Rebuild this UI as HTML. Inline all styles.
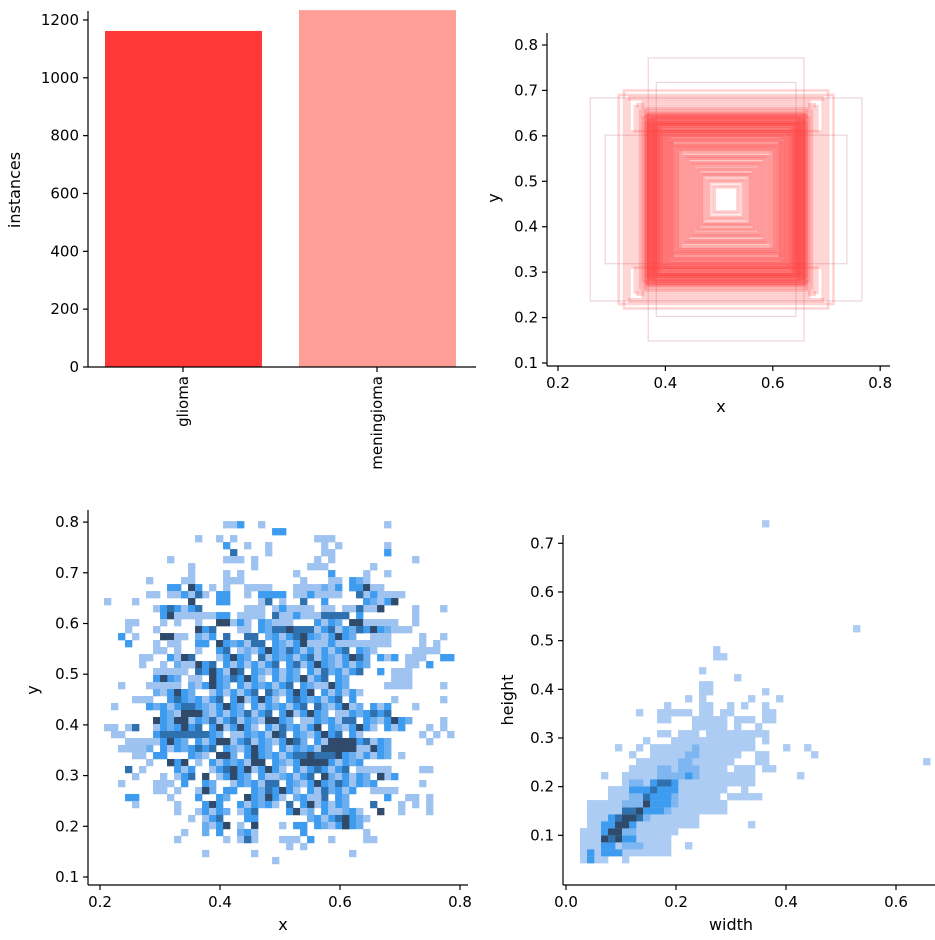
<!DOCTYPE html>
<html><head><meta charset="utf-8">
<style>
html,body{margin:0;padding:0;background:#fff;}
svg{display:block;font-family:"DejaVu Sans","Liberation Sans",sans-serif;}
.tk{font-size:15px;fill:#000;}
.lb{font-size:16px;fill:#000;}
</style></head>
<body>
<svg id="fig" width="935" height="940" viewBox="0 0 935 940" xmlns="http://www.w3.org/2000/svg">
<rect width="935" height="940" fill="#fff"/>
<g id="p1"></g>
<g id="p2"></g>
<g id="p3"></g>
<g id="p4"></g>
</svg>
<script>
// ---- Bar chart data ----
const classNames = ["glioma","meningioma"];
const classCounts = [1162, 1234];
const barTicks = [0,200,400,600,800,1000,1200];

// ---- Box outline data (width, height in axis units) ----
const boxW = [0.29,0.506,0.45,0.26,0.30,0.27,0.31,0.29,0.26,0.33,0.36,0.38,0.35,0.32,0.30,0.29,0.28,0.27,0.26,0.25,0.24,0.31,0.29,0.28,0.27,0.26,0.25,0.24,0.23,0.22,0.21,0.20,0.19,0.18,0.17,0.16,0.15,0.14,0.13,0.12,0.11,0.10,0.09,0.08,0.07,0.06,0.05,0.042,0.28,0.27,0.25,0.24,0.23,0.22,0.21,0.20,0.19,0.18,0.17,0.16,0.15,0.14,0.13,0.12,0.11,0.10,0.09,0.29,0.28,0.27,0.26,0.25,0.24,0.23,0.22,0.21,0.20,0.34,0.37,0.40,0.32,0.31,0.30,0.29,0.28,0.27,0.26,0.30,0.29,0.28,0.27,0.26,0.25,0.24,0.23,0.22,0.21,0.20,0.19,0.18,0.295,0.285,0.275,0.265,0.255,0.245,0.235,0.225,0.215,0.205,0.195,0.185,0.175,0.165,0.155,0.145,0.135,0.125,0.115,0.105,0.095,0.085,0.075,0.065,0.30,0.29,0.28,0.27,0.26,0.25];
const boxH = [0.623,0.447,0.283,0.515,0.40,0.36,0.43,0.38,0.34,0.42,0.45,0.48,0.30,0.40,0.37,0.35,0.33,0.32,0.31,0.30,0.29,0.36,0.35,0.34,0.33,0.31,0.30,0.29,0.28,0.27,0.25,0.24,0.23,0.22,0.21,0.19,0.18,0.17,0.16,0.15,0.13,0.12,0.11,0.10,0.085,0.075,0.06,0.053,0.36,0.35,0.33,0.31,0.30,0.28,0.27,0.26,0.24,0.23,0.22,0.20,0.19,0.18,0.16,0.15,0.14,0.13,0.11,0.38,0.37,0.36,0.34,0.33,0.32,0.30,0.29,0.28,0.26,0.41,0.44,0.46,0.39,0.38,0.37,0.36,0.35,0.34,0.33,0.34,0.33,0.32,0.31,0.30,0.29,0.28,0.27,0.26,0.25,0.24,0.23,0.22,0.37,0.355,0.34,0.33,0.32,0.305,0.29,0.28,0.265,0.255,0.24,0.23,0.215,0.205,0.19,0.18,0.165,0.155,0.14,0.13,0.115,0.105,0.09,0.08,0.39,0.375,0.365,0.35,0.335,0.32];
const boxCenter = [0.513, 0.46];
const p2XTicks = [0.2,0.4,0.6,0.8];
const p2YTicks = [0.1,0.2,0.3,0.4,0.5,0.6,0.7,0.8];

// ---- x/y histogram (rows from top, "col-col:level") ----
const xyOrigin = [0.2067, 0.802];
const xyBin = [0.01167, 0.0138];
const xyMix = [3,2,3,1,3,4,0,3,2,1,3,5,3,2,0,3,1];
const xyRows = [
"17-18:1 19:3 22:1 40:1","24-25:3","13:1 16:1 18:1 30-32:1","17:3 20:1 23:1 31:1 33:1 40:1",
"18:4 23:1 31-32:1 40:3","9:1 17-19:1 21:1 30:1 32:1 44:1","12:1 21:1 29-31:1 38:1",
"12:1 17:1 19:1 27:1 32:3 37:1 40:1","6:1 11-12:1 17-19:1 28:1 32-33:1 35-37:3",
"9-10:3 12:5 13:3 15:1 17:1 20-23:1 27-30:1 31-33:3 35-36:3 37:5 38-39:1",
"6-7:1 9-14:1 11:3 13:4 16-17:3 20:1 22-23:3 24-25:3 27-33:1 29:3 36-42:1 36:4 38:3",
"0:1 4:1 12:5 16-17:3 22-23:1 23:4 25:1 28:4 31:3 36-41:3 39:1",
"7-13:3 9:4 20-22:1 24-29:1 25:3 31-32:1 34-39:1 36:4 39:5 44:1 48:1",
"8:3 9:5 10-12:1 13-15:1 16-17:3 19-22:1 24:4 25-30:1 27:3 31-34:4 36:3 44:1",
"3-4:1 8:1 10:1 13:1 16:5 17:5 18-24:3 20:1 25-26:1 29-33:3 35-36:5 37-41:1 44:1",
"3:1 7:1 13:5 14-16:3 19-20:1 22-24:3 24-29:4 26:5 30-40:3 33:1 36:4 41-43:1",
"2:3 4:1 8-9:5 10-11:1 13-15:3 17:4 20-21:4 23-35:3 28:5 31:1 38-40:1 45:1 48:1",
"3:3 7:1 9-10:1 13-14:3 16:5 17-28:3 21:4 29-35:1 32:3 36-40:1 45:1 47:1",
"7-8:1 10:1 13:1 16-38:3 19:1 26:4 30:1 44-47:1",
"5-6:1 9-12:3 11:5 16-41:3 22:4 30:1 36:4 43-45:1 48-49:3",
"5:1 8:1 10-37:3 12:1 15:4 20:1 27:4 33:1 43-44:1 46:3",
"7-11:1 13:4 14-37:3 15:5 18:5 25:1 31:4 39:3 41-43:1",
"7-10:3 8:5 12-13:1 15-34:3 15:5 18:4 22:1 28:5 41-43:1",
"2:1 6-10:1 12-35:3 15:5 20:1 26:4 31:1 40-43:1 48:1",
"7-12:3 15-36:3 17:1 23:4 29:5 34:1",
"4:1 5-6:1 8-35:3 10:4 14:1 19:5 24:1 27:4 41:1 48:1",
"1:1 6-40:3 9:1 12:4 17:5 22:1 30:4 35:1 44:1",
"7-41:3 11-13:5 15:1 20:4 26:5 33:1 38:4",
"7-43:3 10-11:5 15:4 19:1 23:5 28:1 34:4 48:1",
"0-1:1 3-4:1 4:4 7-42:3 11:5 16:5 21:1 25:4 30:5 38:1 46:1 48:1",
"1-2:1 7-36:3 8-14:4 18:1 24:5 29:1 33:4 45:1 47:1 49:1",
"3-7:1 7-40:3 16-17:5 21:1 27:4 32-35:5 38:1 46:1",
"2-24:3 2-5:1 13:4 19:1 24-40:3 31-35:5 37:1",
"4-5:1 7-8:3 11-14:3 16-24:3 16-17:5 21:5 24-40:3 27-32:4 29:5 36:1 42:1",
"6:1 9-11:3 9:5 13:1 15-36:3 21-22:5 28-31:5 33:1",
"3:4 5:1 9-12:3 15-40:3 18:5 20:5 25:1 30:4 36-40:1 45-46:1",
"4:1 8:1 10-12:3 14:5 16-41:3 18:5 24:1 31:5 35:1 39:5",
"2:1 7-9:1 11:3 14-16:3 18-38:3 23:4 28:1 33:4 45:1",
"7-8:1 10:1 13-15:3 14:5 17-18:3 21-35:3 23:4 27:1 31:4 38-41:1",
"3-4:3 9:1 13:3 15-17:3 20-25:3 23:5 27-34:3 30:1 40:3 43-44:1 46:1",
"4:1 10:1 14-16:3 19-24:3 26-34:3 29:5 32:1 38:4 42:1 44:1 46:1",
"10:1 13:1 14-17:3 19-22:3 26-36:3 28:1 33:1 39:5 42:1 46:1",
"12:1 14-17:3 20-21:3 29-37:3 34:5 31:1",
"14-17:3 19:1 21:5 25:1 27-28:3 30-37:3 34:5 32:1",
"11:1 14-16:3 19-21:3 28:3 37:1",
"10:1 17:1 19-21:1 20:4 25-27:1 29:3 32:1 37-38:1",
"26:1 28:1","14:1 21:1 35:1","24:1"
];
const xyXTicks = [0.2,0.4,0.6,0.8];
const xyYTicks = [0.1,0.2,0.3,0.4,0.5,0.6,0.7,0.8];

// ---- width/height histogram (rows from bottom) ----
const whOrigin = [0.0255, 0.043];
const whBin = [0.01273, 0.01438];
const whRows = [
"0-3:1 1:3 6:1","0-12:1 1:3 3-5:3","0-12:1 3-4:3 6-8:2 15:1","0-12:1 3-5:5 4:4 6-7:3",
"0-13:1 3:3 4-5:5 6-7:2","1-16:1 3-4:3 5-6:5 7:3 24:1","1-16:1 4:3 5-8:4 6-7:5 9:2",
"1-20:1 6-8:4 8:5 9-11:3 12:2","1-20:1 6-8:2 9:5 10-12:3 13:2","4-19:1 7-13:2 9:4 10-12:3 21-25:1",
"4-19:1 7-13:3 10:4 11:3 20:1 23:1","6-24:1 7-8:2 10-13:3 11-12:4","3:1 6-24:1 11-16:2 15:3 31:1",
"7-20:1 11-12:2 14-16:2 22-24:1 26-27:1","8-21:1 14-15:2 25-26:1 49:1","7:1 10-22:1 15-16:2 25-26:1 33:1",
"5:1 8:1 10-24:1 16:2 29:1 32:1","9:1 13-24:1 26:1","11-12:1 14-16:1 18-25:1 26:1","16-20:1 22:1 25:1",
"11-12:1 16-19:1 20:1 22:1 23-24:1 26-27:1","8:1 11-15:1 17-18:1 20:1 21:1 26-27:1",
"12:1 17-18:1 21:1 23:1 26:1","15:1 17:1 24:1 28:1","17-18:1 26:1","17-18:1","22:1","17:1","",
"19-20:1","19:1","","","39:1","","","","","","","","","","","","","","","26:1"
];
const whXTicks = [0.0,0.2,0.4,0.6];
const whYTicks = [0.1,0.2,0.3,0.4,0.5,0.6,0.7];

const levelColor = {1:"#9fc3f0",2:"#6aaef0",3:"#3d9cef",4:"#2f70ae",5:"#2f4a6a"};
const whColor = {1:"#acccf3",2:"#7db6f0",3:"#3d9cef",4:"#2f70ae",5:"#2f4a6a"};
const NS="http://www.w3.org/2000/svg";
function mk(parent, tag, attrs, text){
  const e=document.createElementNS(NS,tag);
  for(const k in attrs) e.setAttribute(k,attrs[k]);
  if(text!==undefined) e.textContent=text;
  parent.appendChild(e); return e;
}
function fmt(v){return v.toFixed(1);}
function axes(g, x0, x1, y0, y1){
  const l=mk(g,"line",{x1:x0,y1:y0,x2:x0,y2:y1,stroke:"#000","stroke-width":1.2});
  
  
  const b=mk(g,"line",{x1:x0,y1:y1,x2:x1,y2:y1,stroke:"#000","stroke-width":1.2});
  
  
}
function yTick(g, x0, y, label){
  mk(g,"line",{x1:x0-5,y1:y,x2:x0,y2:y,stroke:"#000","stroke-width":1.2});
  const t=mk(g,"text",{x:x0-9,y:y+5,"text-anchor":"end",class:"tk"},label);
  
  
}
function xTick(g, x, y1, label){
  mk(g,"line",{x1:x,y1:y1,x2:x,y2:y1+5,stroke:"#000","stroke-width":1.2});
  const t=mk(g,"text",{x:x,y:y1+22,"text-anchor":"middle",class:"tk"},label);
  
  
}
function axisTitle(g, x, y, text, rot, name){
  const t=mk(g,"text",{x:x,y:y,"text-anchor":"middle",class:"lb",transform:rot?`rotate(-90 ${x} ${y})`:""},text);
  
  
}
function parseRow(s){
  const out=[]; if(!s) return out;
  s.trim().split(/\s+/).forEach(seg=>{
    const [r,l]=seg.split(":"); const [a,b]=r.split("-").map(Number);
    out.push([a, isNaN(b)?a:b, Number(l)]);
  });
  return out;
}

// ===== Panel 1: bars =====
(function(){
  const g=document.getElementById("p1");
  const X0=88, X1=476, Y0=11, Y1=367;
  const ys=v=>Y1-v*0.2892;
  const slot=194, bw=157, start=105;
  classCounts.forEach((v,i)=>{
    const r=mk(g,"rect",{x:start+i*slot,y:ys(v),width:bw,height:Y1-ys(v),fill:i===0?"#ff3838":"#ff9d97"});
    
    
  });
  axes(g,X0,X1,Y0,Y1);
  barTicks.forEach(v=>yTick(g,X0,ys(v),String(v)));
  classNames.forEach((n,i)=>{
    const cx=start+i*slot+bw/2-0.5;
    mk(g,"line",{x1:cx,y1:Y1,x2:cx,y2:Y1+5,stroke:"#000","stroke-width":1.2});
    const t=mk(g,"text",{x:cx+5,y:Y1+9,"text-anchor":"end",class:"tk",transform:`rotate(-90 ${cx+5} ${Y1+9})`},n);
    
    
  });
  axisTitle(g,20,190,"instances",true,"y-axis-title");
})();

// ===== Panel 2: box outlines =====
(function(){
  const g=document.getElementById("p2");
  const X0=547, X1=890, Y0=33, Y1=366;
  const xs=v=>558+(v-0.2)*537, ys=v=>363-(v-0.1)*454.3;
  boxW.forEach((w,i)=>{
    const h=boxH[i];
    const outer=i<4;
    const r=mk(g,"rect",{x:xs(boxCenter[0]-w/2),y:ys(boxCenter[1]+h/2),width:w*537,height:h*454.3,fill:"none",
      stroke:outer?"rgba(210,150,160,0.4)":"rgba(255,60,60,0.22)","stroke-width":outer?1.2:2.6});
    
    
  });
  axes(g,X0,X1,Y0,Y1);
  p2YTicks.forEach(v=>yTick(g,X0,ys(v),fmt(v)));
  p2XTicks.forEach(v=>xTick(g,xs(v),Y1,fmt(v)));
  axisTitle(g,721,412,"x",false,"x-axis-title");
  axisTitle(g,499,198,"y",true,"y-axis-title");
})();

// ===== Panel 3: x/y histogram =====
(function(){
  const g=document.getElementById("p3");
  const X0=88, X1=468, Y0=510, Y1=885;
  const xs=v=>100+(v-0.2)*600, ys=v=>877-(v-0.1)*507;
  const cw=xyBin[0]*600, ch=xyBin[1]*507;
  xyRows.forEach((s,r)=>{
    parseRow(s).forEach(([a,b,l])=>{
      for(let c=a;c<=b;c++){
        let lv=l;
        if(l===3 && b-a>=2) lv=xyMix[(c+r*5)%xyMix.length];
        if(!lv) continue;
        const x=xs(xyOrigin[0]+c*xyBin[0]), y=ys(xyOrigin[1]-r*xyBin[1]);
        const e=mk(g,"rect",{x:x,y:y,width:cw+0.3,height:ch+0.3,fill:levelColor[lv]});
        
        
      }
    });
  });
  axes(g,X0,X1,Y0,Y1);
  xyYTicks.forEach(v=>yTick(g,X0,ys(v),fmt(v)));
  xyXTicks.forEach(v=>xTick(g,xs(v),Y1,fmt(v)));
  axisTitle(g,283,930,"x",false,"x-axis-title");
  axisTitle(g,38,690,"y",true,"y-axis-title");
})();

// ===== Panel 4: width/height histogram =====
(function(){
  const g=document.getElementById("p4");
  const X0=563, X1=935, Y0=535, Y1=885;
  const xs=v=>566+v*550, ys=v=>884-v*486.7;
  const cw=whBin[0]*550, ch=whBin[1]*486.7;
  whRows.forEach((s,r)=>{
    parseRow(s).forEach(([a,b,l])=>{
      for(let c=a;c<=b;c++){
        const x=xs(whOrigin[0]+c*whBin[0]), y=ys(whOrigin[1]+(r+1)*whBin[1]);
        const e=mk(g,"rect",{x:x,y:y,width:cw+0.3,height:ch+0.3,fill:whColor[l]});
        
        
      }
    });
  });
  axes(g,X0,X1,Y0,Y1);
  whYTicks.forEach(v=>yTick(g,X0,ys(v),fmt(v)));
  whXTicks.forEach(v=>xTick(g,xs(v),Y1,fmt(v)));
  axisTitle(g,731,930,"width",false,"x-axis-title");
  axisTitle(g,513,700,"height",true,"y-axis-title");
})();
</script>
</body></html>
